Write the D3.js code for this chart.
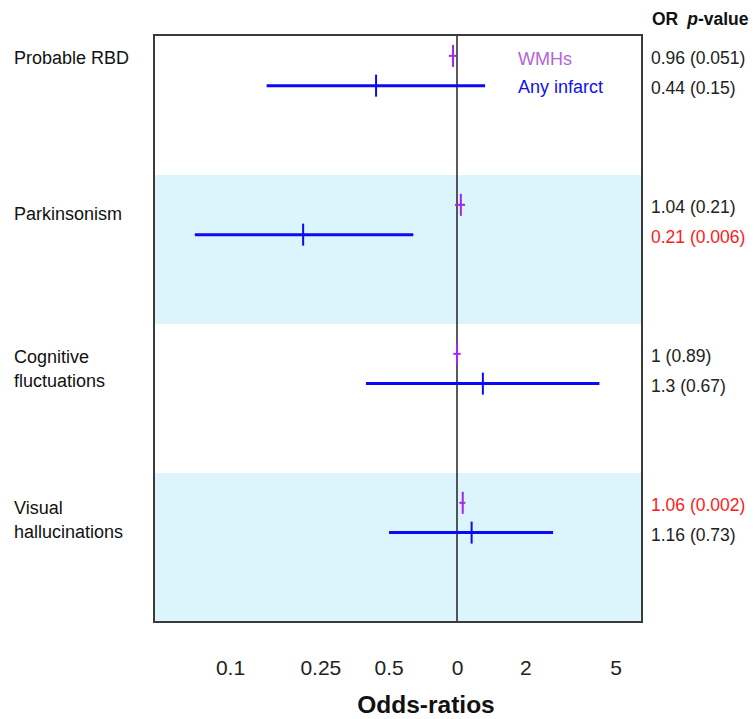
<!DOCTYPE html>
<html><head><meta charset="utf-8">
<script src="https://cdn.jsdelivr.net/npm/d3@7"></script>
<style>body{margin:0;background:#fff}svg{display:block;font-family:"Liberation Sans",Arial,sans-serif}</style>
</head><body>
<svg id="chart" width="755" height="719"></svg>
<script>
// ---- data ----
const categories = ["Probable RBD", "Parkinsonism", "Cognitive fluctuations", "Visual hallucinations"];
const labelLines = [["Probable RBD"], ["Parkinsonism"], ["Cognitive", "fluctuations"], ["Visual", "hallucinations"]];
const seriesNames = ["WMHs", "Any infarct"];
const wmhOR = [0.96, 1.04, 1.0, 1.06];
const wmhLo = [0.92, 0.98, 0.963, 1.024];
const wmhHi = [1.0, 1.085, 1.038, 1.088];
const infOR = [0.44, 0.21, 1.3, 1.16];
const infLo = [0.145, 0.070, 0.397, 0.502];
const infHi = [1.33, 0.642, 4.24, 2.65];
const wmhText = ["0.96 (0.051)", "1.04 (0.21)", "1 (0.89)", "1.06 (0.002)"];
const infText = ["0.44 (0.15)", "0.21 (0.006)", "1.3 (0.67)", "1.16 (0.73)"];
const wmhSig = [false, false, false, true];
const infSig = [false, true, false, false];
const tickValues = [0.1, 0.25, 0.5, 1, 2, 5];
const tickLabels = ["0.1", "0.25", "0.5", "0", "2", "5"];

// ---- layout ----
const svg = d3.select("#chart");
const L = 154, R = 642, T = 35, B = 622;
const x = d3.scaleLog().domain([Math.pow(10, (L - 457) / 227), Math.pow(10, (R - 457) / 227)]).range([L, R]);
const nRows = categories.length;
const y = d3.scaleLinear().domain([0, 3.94]).range([B, T]);
const rowBase = i => nRows - 1 - i; // bottom value of row i
const labelDy = [-13, -6, 0, 2.5];

// bands
svg.append("g").selectAll("rect").data(categories.map((c, i) => i).filter(i => i % 2 === 1))
  .join("rect")
  .attr("x", L).attr("width", R - L)
  .attr("y", i => y(Math.min(rowBase(i) + 1, 3.94)))
  .attr("height", i => y(rowBase(i)) - y(Math.min(rowBase(i) + 1, 3.94)))
  .attr("fill", "#dcf4fc");

// reference line at 1
svg.append("line").attr("x1", x(1)).attr("x2", x(1)).attr("y1", T).attr("y2", B)
  .attr("stroke", "#222").attr("stroke-width", 1.5);

// series
const series = [
  {or: wmhOR, lo: wmhLo, hi: wmhHi, off: 0.8, color: "#a626f0", w: 2, tw: 2},
  {or: infOR, lo: infLo, hi: infHi, off: 0.6, color: "#0a0af5", w: 3, tw: 2}
];
series.forEach(s => {
  const g = svg.append("g");
  categories.forEach((c, i) => {
    const yy = y(rowBase(i) + s.off);
    g.append("line").attr("x1", x(s.lo[i])).attr("x2", x(s.hi[i])).attr("y1", yy).attr("y2", yy)
      .attr("stroke", s.color).attr("stroke-width", s.w);
    g.append("line").attr("x1", x(s.or[i])).attr("x2", x(s.or[i])).attr("y1", yy - 11).attr("y2", yy + 11)
      .attr("stroke", s.color).attr("stroke-width", s.tw);
  });
});

// box
svg.append("rect").attr("x", L).attr("y", T).attr("width", R - L).attr("height", B - T)
  .attr("fill", "none").attr("stroke", "#3a3a3a").attr("stroke-width", 2);

// legend
svg.append("text").attr("x", 518).attr("y", y(3.8) + 9).attr("font-size", 18).attr("fill", "#b565d6").text(seriesNames[0]);
svg.append("text").attr("x", 518).attr("y", y(3.6) + 7).attr("font-size", 18).attr("fill", "#1010f0").text(seriesNames[1]);

// left labels
labelLines.forEach((lines, i) => {
  const mid = y(rowBase(i) + 0.7);
  const n = lines.length;
  const t = svg.append("text").attr("font-size", 18).attr("fill", "#111");
  lines.forEach((ln, k) => {
    t.append("tspan").attr("x", 14).attr("y", mid + 6 + labelDy[i] + (k - (n - 1) / 2) * 24).text(ln);
  });
});

// right annotations
categories.forEach((c, i) => {
  svg.append("text").attr("x", 651).attr("y", y(rowBase(i) + 0.8) + 8).attr("font-size", 17.5)
    .attr("fill", wmhSig[i] ? "#ff1a1a" : "#222").text(wmhText[i]);
  svg.append("text").attr("x", 651).attr("y", y(rowBase(i) + 0.6) + 8).attr("font-size", 17.5)
    .attr("fill", infSig[i] ? "#ff1a1a" : "#222").text(infText[i]);
});

// header
const h = svg.append("text").attr("x", 652).attr("y", 25).attr("font-size", 17.5).attr("font-weight", "bold").attr("fill", "#111");
h.append("tspan").text("OR");
h.append("tspan").attr("dx", 9).attr("font-style", "italic").text("p");
h.append("tspan").text("-value");

// x axis
const ax = svg.append("g").attr("transform", `translate(0,${B})`)
  .call(d3.axisBottom(x).tickValues(tickValues).tickFormat((d, i) => tickLabels[i]).tickSize(0));
ax.select(".domain").remove();
ax.selectAll("text").attr("font-size", 21).attr("fill", "#222").attr("dy", null).attr("y", 53)
  .attr("font-family", "Liberation Sans, Arial, sans-serif");

// x title
svg.append("text").attr("x", 426).attr("y", 713).attr("text-anchor", "middle")
  .attr("font-size", 24.5).attr("font-weight", "bold").attr("fill", "#111").text("Odds-ratios");
</script>
</body></html>
